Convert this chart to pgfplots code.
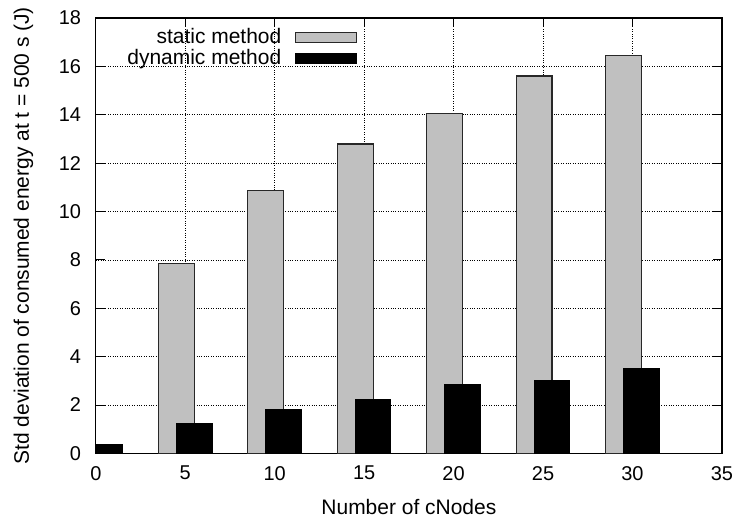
\documentclass[border=0pt]{standalone}
\usepackage{pgfplots}
\pgfplotsset{compat=1.18}
\usepackage{fontspec}
\setmainfont{Liberation Sans}
\definecolor{staticgray}{RGB}{192,192,192}
\definecolor{edgegray}{RGB}{40,40,40}
\begin{document}
\fontsize{21}{24}\selectfont
\begin{tikzpicture}
\begin{axis}[
  scale only axis,
  width=627pt, height=436pt,
  xmin=0, xmax=35, ymin=0, ymax=18,
  xtick={0,5,...,35}, ytick={0,2,...,18},
  /pgf/number format/assume math mode=true,
  tick align=inside,
  major tick length=9pt,
  tick style={black, line width=1pt},
  axis line style={black, line width=1.2pt},
  grid=major,
  major grid style={black, dotted, line width=0.8pt},
  xlabel={Number of cNodes},
  ylabel={Std deviation of consumed energy at t = 500 s (J)},
  every axis y label/.style={at={(axis description cs:-0.1156,0.5)}, rotate=90, anchor=center},
  every axis x label/.style={at={(axis description cs:0.5,-0.122)}, anchor=center},
  tick label style={font=\fontsize{20}{23}\selectfont},
  label style={font=\fontsize{21}{24}\selectfont},
  xticklabel style={yshift=-5.5pt},
  yticklabel style={xshift=-7.6pt},
  legend cell align=right,
  legend plot pos=right,
  legend style={draw=none, fill=none, at={(0.418,0.981)}, anchor=north east, inner sep=0pt, row sep=-1.5pt,
    font=\fontsize{21}{24}\selectfont},
  legend image code/.code={\path (0pt,0pt); \draw[#1] (12pt,-5pt) rectangle (73pt,5pt);},
]
\addplot[ybar, bar width=2, bar shift=-0.5, fill=staticgray, draw=edgegray, line width=1.2pt]
  coordinates {(5,7.84) (10,10.86) (15,12.79) (20,14.06) (25,15.6) (30,16.45)};
\addlegendentry{static method}
\addplot[ybar, bar width=2, bar shift=0.5, fill=black, draw=black, line width=1pt]
  coordinates {(0,0.37) (5,1.25) (10,1.80) (15,2.24) (20,2.83) (25,3.00) (30,3.50)};
\addlegendentry{dynamic method}
\end{axis}
\path ([xshift=-96pt,yshift=-68.3pt]current axis.south west) rectangle ([xshift=17pt,yshift=15.7pt]current axis.north east);
\end{tikzpicture}
\end{document}
